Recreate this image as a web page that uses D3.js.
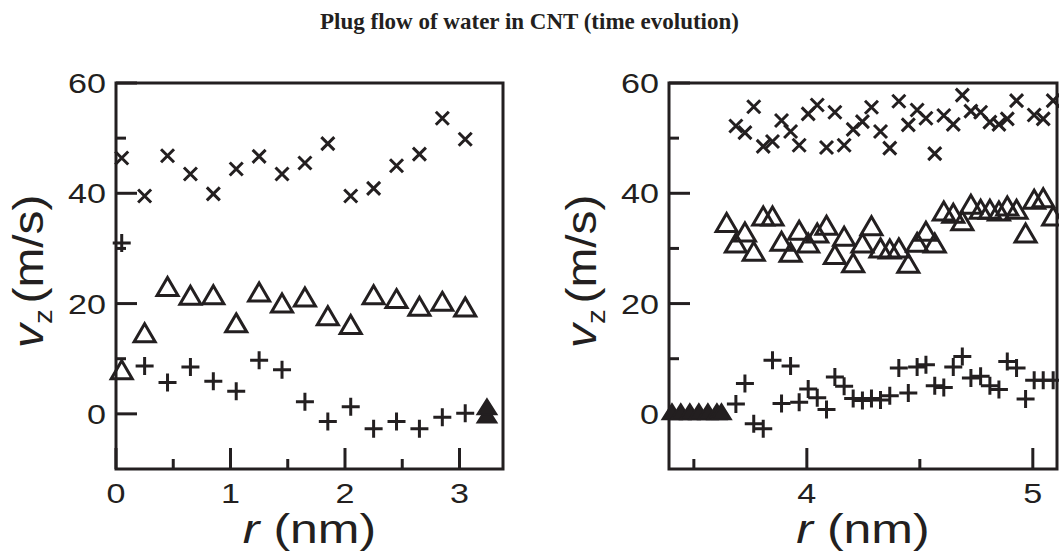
<!DOCTYPE html>
<html>
<head>
<meta charset="utf-8">
<script src="https://cdn.jsdelivr.net/npm/d3@7"></script>
<style>
  html, body { margin: 0; padding: 0; background: #fff; }
  svg { display: block; }
</style>
</head>
<body>
<script>
// ---------------- DATA ----------------
const titleText = "Plug flow of water in CNT (time evolution)";
const yTicksMajor = [0, 20, 40, 60];
const yTicksMinor = [10, 30, 50];
const leftXTicksMajor = [0, 1, 2, 3];
const leftXTicksMinor = [0.5, 1.5, 2.5];
const rightXTicksMajor = [4, 5];
const rightXTicksMinor = [3.5, 4.5];

// Left panel (r from 0 to ~3.4 nm)
const leftR     = [0.05, 0.25, 0.45, 0.65, 0.85, 1.05, 1.25, 1.45, 1.65, 1.85, 2.05, 2.25, 2.45, 2.65, 2.85, 3.05];
const leftCross = [46.4, 39.5, 46.8, 43.5, 39.9, 44.4, 46.7, 43.5, 45.5, 49.0, 39.5, 40.9, 45.0, 47.1, 53.6, 49.8];
const leftTri   = [8.0, 14.7, 23.1, 21.5, 21.6, 16.5, 22.1, 20.1, 21.2, 17.8, 16.2, 21.6, 20.9, 19.5, 20.4, 19.4];
const leftPlus  = [31.0, 8.7, 5.7, 8.5, 5.9, 4.1, 9.7, 8.0, 2.2, -1.4, 1.3, -2.7, -1.4, -2.7, -0.6, 0.1];
const leftFilledR = [3.24, 3.24];
const leftFilledV = [-0.2, 1.3];

// Right panel (r from ~3.4 to ~5.1 nm)
const rightR = [3.645, 3.686, 3.726, 3.765, 3.807, 3.848, 3.888, 3.928, 3.966, 4.006, 4.046, 4.087,
                4.124, 4.165, 4.205, 4.246, 4.286, 4.326, 4.367, 4.407, 4.449, 4.488, 4.527, 4.566,
                4.606, 4.648, 4.688, 4.726, 4.769, 4.810, 4.850, 4.887, 4.928, 4.968, 5.006, 5.046, 5.090];
const rightCross = [null, 52.2, 51.0, 55.7, 48.5, 49.4, 53.2, 51.2, 48.7, 54.4, 56.0, 48.3,
                    54.7, 48.7, 51.6, 53.0, 55.6, 51.2, 48.2, 56.7, 52.4, 55.1, 53.6, 47.2,
                    54.1, 52.5, 57.8, 54.9, 54.7, 52.9, 52.5, 53.5, 56.8, null, 54.2, 53.5, 56.8];
const rightTri   = [34.7, 31.0, 33.0, 29.5, 35.9, 35.9, 31.3, 29.3, 33.3, 31.0, 32.8, 34.2,
                    28.9, 32.2, 27.4, 31.0, 34.1, 30.1, 29.9, 30.1, 27.3, 31.1, 33.1, 31.0,
                    36.8, 36.4, 35.0, 38.0, 37.1, 37.1, 36.8, 37.7, 37.1, 32.8, 38.9, 39.2, 35.9];
const rightPlus  = [null, 1.8, 5.5, -1.8, -2.7, 9.7, 1.9, 8.7, 2.1, 4.5, 2.9, 0.8,
                    6.7, 5.0, 2.8, 2.4, 2.8, 2.5, 3.3, 8.3, 3.8, 8.5, 8.9, 5.1,
                    4.8, 8.5, 10.4, 6.5, 6.8, 5.1, 4.4, 9.5, 8.3, 2.7, 6.1, 6.1, 6.1];
const rightFilledR = [3.403, 3.442, 3.482, 3.522, 3.562, 3.602, 3.622];
const rightFilledV = [0.4, 0.4, 0.4, 0.4, 0.4, 0.4, 0.4];

// ---------------- DRAWING ----------------
const W = 1059, H = 556;
const INK = "#231f20";
const FONT = "'Liberation Sans', Arial, Helvetica, sans-serif";
const SX = 1.22; // horizontal stretch of the reference lettering

const svg = d3.select("body").append("svg")
  .attr("width", W).attr("height", H)
  .attr("viewBox", `0 0 ${W} ${H}`);

svg.append("text")
  .attr("x", W / 2).attr("y", 29)
  .attr("text-anchor", "middle")
  .attr("font-family", "'Liberation Serif', 'DejaVu Serif', serif")
  .attr("font-weight", "bold")
  .attr("font-size", 23)
  .attr("fill", INK)
  .text(titleText);

const y = d3.scaleLinear().domain([-10, 60]).range([469, 83]);

const crossPath = (s => `M${-s},${-s}L${s},${s}M${-s},${s}L${s},${-s}`)(6.5);
const plusPath = (s => `M${-s},0L${s},0M0,${-s}L0,${s}`)(9);
const triPath = ((w, h) => `M0,${-h / 2}L${w / 2},${h / 2}L${-w / 2},${h / 2}Z`)(21, 18);
const filledPath = ((w, h) => `M0,${-h / 2}L${w / 2},${h / 2}L${-w / 2},${h / 2}Z`)(19, 15);

function panel(cfg) {
  const x = d3.scaleLinear().domain(cfg.xDomain).range(cfg.xRange);
  const g = svg.append("g");
  const [x0, x1] = cfg.xRange;
  const [y1, y0] = y.range();

  // ticks (inward) on left and bottom
  const tg = g.append("g").attr("stroke", INK).attr("stroke-width", 3);
  tg.selectAll(".ymaj").data(yTicksMajor).join("line")
    .attr("x1", x0).attr("x2", x0 + 21)
    .attr("y1", d => y(d)).attr("y2", d => y(d));
  tg.selectAll(".ymin").data(yTicksMinor).join("line")
    .attr("x1", x0).attr("x2", x0 + 10)
    .attr("y1", d => y(d)).attr("y2", d => y(d));
  tg.selectAll(".xmaj").data(cfg.xMajor).join("line")
    .attr("x1", d => x(d)).attr("x2", d => x(d))
    .attr("y1", y1).attr("y2", y1 - 21);
  tg.selectAll(".xmin").data(cfg.xMinor).join("line")
    .attr("x1", d => x(d)).attr("x2", d => x(d))
    .attr("y1", y1).attr("y2", y1 - 10);

  // frame
  g.append("rect")
    .attr("x", x0).attr("y", y0)
    .attr("width", x1 - x0).attr("height", y1 - y0)
    .attr("fill", "none").attr("stroke", INK).attr("stroke-width", 3);

  // tick labels
  g.selectAll(".yl").data(yTicksMajor).join("text")
    .attr("transform", d => `translate(${x0 - 10},${y(d) + 10}) scale(${SX},1)`)
    .attr("text-anchor", "end")
    .attr("font-family", FONT).attr("font-size", 28).attr("fill", INK)
    .text(d => d);
  g.selectAll(".xl").data(cfg.xMajor).join("text")
    .attr("transform", d => `translate(${x(d)},${503}) scale(${SX},1)`)
    .attr("text-anchor", "middle")
    .attr("font-family", FONT).attr("font-size", 28).attr("fill", INK)
    .text(d => d);

  // x axis title
  const xt = g.append("text")
    .attr("transform", `translate(${(x0 + x1) / 2},543) scale(1.25,1)`)
    .attr("text-anchor", "middle")
    .attr("font-family", FONT).attr("font-size", 40).attr("fill", INK);
  xt.append("tspan").attr("font-style", "italic").text("r");
  xt.append("tspan").text(" (nm)");

  // y axis title
  const yt = g.append("text")
    .attr("transform", `translate(${cfg.yTitleX},348) rotate(-90) scale(1.14,1)`)
    .attr("text-anchor", "start")
    .attr("font-family", FONT).attr("font-size", 42).attr("fill", INK);
  yt.append("tspan").attr("font-style", "italic").text("v");
  yt.append("tspan").attr("font-size", 26).attr("dy", 9).text("z");
  yt.append("tspan").attr("dx", 5).attr("dy", -9).text("(m/s)");

  // markers
  const mg = g.append("g").attr("fill", "none").attr("stroke", INK)
    .attr("stroke-width", 3);
  const pts = (rs, vs) => rs.map((r, i) => ({ r, v: vs[i] })).filter(d => d.v != null);

  mg.selectAll(".tri").data(pts(cfg.r, cfg.tri)).join("path")
    .attr("d", triPath)
    .attr("stroke-linejoin", "miter")
    .attr("transform", d => `translate(${x(d.r)},${y(d.v)})`);
  mg.selectAll(".plus").data(pts(cfg.r, cfg.plus)).join("path")
    .attr("d", plusPath)
    .attr("transform", d => `translate(${x(d.r)},${y(d.v)})`);
  mg.selectAll(".cross").data(pts(cfg.r, cfg.cross)).join("path")
    .attr("d", crossPath)
    .attr("transform", d => `translate(${x(d.r)},${y(d.v)})`);
  mg.selectAll(".filled").data(pts(cfg.filledR, cfg.filledV)).join("path")
    .attr("d", filledPath)
    .attr("fill", INK).attr("stroke-width", 2)
    .attr("transform", d => `translate(${x(d.r)},${y(d.v)})`);
}

panel({
  xDomain: [0, 3.38], xRange: [116, 503],
  xMajor: leftXTicksMajor, xMinor: leftXTicksMinor,
  yTitleX: 43,
  r: leftR, cross: leftCross, tri: leftTri, plus: leftPlus,
  filledR: leftFilledR, filledV: leftFilledV
});

panel({
  xDomain: [3.39, 5.107], xRange: [669, 1057],
  xMajor: rightXTicksMajor, xMinor: rightXTicksMinor,
  yTitleX: 596,
  r: rightR, cross: rightCross, tri: rightTri, plus: rightPlus,
  filledR: rightFilledR, filledV: rightFilledV
});
</script>
</body>
</html>
